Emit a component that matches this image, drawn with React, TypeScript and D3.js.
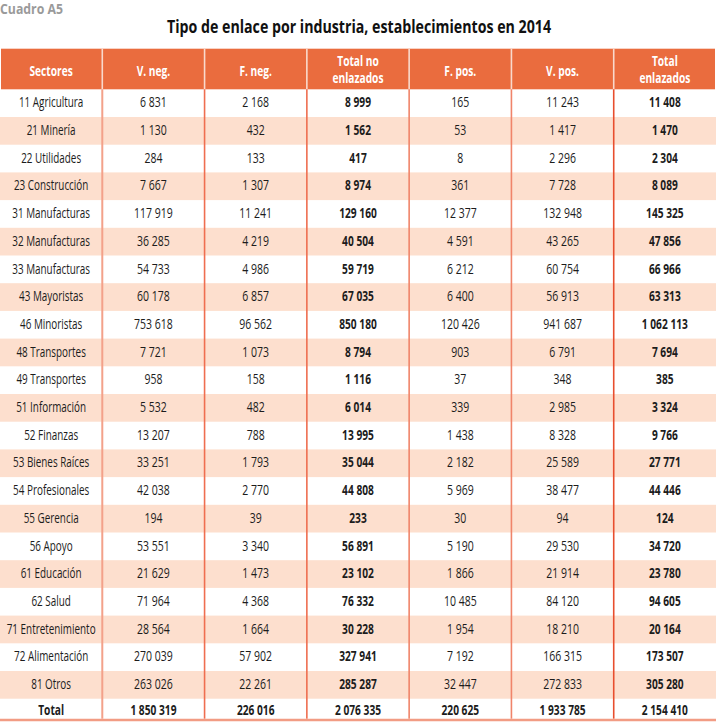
import React from "react";
import * as d3 from "d3";

const sectors = [
  "11 Agricultura", "21 Minería", "22 Utilidades", "23 Construcción", "31 Manufacturas",
  "32 Manufacturas", "33 Manufacturas", "43 Mayoristas", "46 Minoristas", "48 Transportes",
  "49 Transportes", "51 Información", "52 Finanzas", "53 Bienes Raíces", "54 Profesionales",
  "55 Gerencia", "56 Apoyo", "61 Educación", "62 Salud", "71 Entretenimiento",
  "72 Alimentación", "81 Otros",
];
const vNeg = [6831, 1130, 284, 7667, 117919, 36285, 54733, 60178, 753618, 7721, 958, 5532, 13207, 33251, 42038, 194, 53551, 21629, 71964, 28564, 270039, 263026];
const fNeg = [2168, 432, 133, 1307, 11241, 4219, 4986, 6857, 96562, 1073, 158, 482, 788, 1793, 2770, 39, 3340, 1473, 4368, 1664, 57902, 22261];
const totalNo = [8999, 1562, 417, 8974, 129160, 40504, 59719, 67035, 850180, 8794, 1116, 6014, 13995, 35044, 44808, 233, 56891, 23102, 76332, 30228, 327941, 285287];
const fPos = [165, 53, 8, 361, 12377, 4591, 6212, 6400, 120426, 903, 37, 339, 1438, 2182, 5969, 30, 5190, 1866, 10485, 1954, 7192, 32447];
const vPos = [11243, 1417, 2296, 7728, 132948, 43265, 60754, 56913, 941687, 6791, 348, 2985, 8328, 25589, 38477, 94, 29530, 21914, 84120, 18210, 166315, 272833];
const totalEnl = [11408, 1470, 2304, 8089, 145325, 47856, 66966, 63313, 1062113, 7694, 385, 3324, 9766, 27771, 44446, 124, 34720, 23780, 94605, 20164, 173507, 305280];
const totals = [1850319, 226016, 2076335, 220625, 1933785, 2154410];
const headers = [["Sectores"], ["V. neg."], ["F. neg."], ["Total no", "enlazados"], ["F. pos."], ["V. pos."], ["Total", "enlazados"]];
const boldCols = [3, 6];
const title = "Tipo de enlace por industria, establecimientos en 2014";
const label = "Cuadro A5";

const W = 717;
const H = 722;
const FONT = "'Open Sans', 'Noto Sans', sans-serif";
const ORANGE = "#EA6C3E";
const PINK = "#FDDFCE";
const INK = "#1c1c1c";

const locale = d3.formatLocale({ decimal: ",", thousands: "\u00A0", grouping: [3], currency: ["", ""] });
const fmt = locale.format(",d");

type TProps = { x: number; y: number; s: number; bold?: boolean; fill?: string; size?: number; children: React.ReactNode };
function T({ x, y, s, bold, fill = INK, size = 15, children }: TProps) {
  return (
    <text transform={`translate(${x},${y}) scale(${s},1)`} fontFamily={FONT} fontSize={size}
      fontWeight={bold ? "bold" : "normal"} textAnchor="middle" fill={fill}>{children}</text>
  );
}

export default function App() {
  const nCols = headers.length;
  const xEdge = d3.scaleLinear().domain([0, nCols]).range([0, 716]);
  const headerTop = 48.7;
  const headerBottom = 89.3;
  const rowH = 27.7;
  const yRow = d3.scaleLinear().domain([0, 1]).range([headerBottom, headerBottom + rowH]);
  const totalTop = yRow(sectors.length);
  const totalBottom = totalTop + 20;
  const cx = (i: number) => (xEdge(i) + xEdge(i + 1)) / 2;

  const columns = [vNeg, fNeg, totalNo, fPos, vPos, totalEnl];
  const lineColors = ["#F3A18A", "#EF6E50", "#EF6E50", "#F0846A", "#F0846A", "#E84E2E"];
  const sText = 0.66;
  const sNum = 0.7;
  const sBold = 0.68;

  return (
    <svg width={W} height={H} style={{ position: "absolute", left: 0, top: 0, background: "#fff" }}>
      <text x={0} y={13.5} fontFamily={FONT} fontSize={13.5} fontWeight="bold" fill="#9a9a9a"
        textLength={63} lengthAdjust="spacingAndGlyphs">{label}</text>
      <text x={167} y={32.5} fontFamily={FONT} fontSize={18.5} fontWeight="bold" fill="#111"
        textLength={384} lengthAdjust="spacingAndGlyphs">{title}</text>

      <rect x={1} y={headerTop} width={714} height={headerBottom - headerTop} fill={ORANGE} />
      {sectors.map((s, r) =>
        r % 2 === 1 ? (
          <rect key={"bg" + r} x={0} y={yRow(r)} width={716} height={rowH} fill={PINK} />
        ) : null
      )}

      {d3.range(1, nCols).map((i) => (
        <g key={"vl" + i}>
          <line x1={xEdge(i)} x2={xEdge(i)} y1={headerTop} y2={headerBottom} stroke="#F9D9CC" strokeWidth={1.6} />
          <line x1={xEdge(i)} x2={xEdge(i)} y1={headerBottom} y2={totalBottom} stroke={lineColors[i - 1]} strokeWidth={i === 1 ? 2 : 1.6} />
        </g>
      ))}
      <line x1={0} x2={716} y1={totalBottom + 1.3} y2={totalBottom + 1.3} stroke="#F29C84" strokeWidth={2.6} />

      {headers.map((h, i) =>
        h.map((t, k) => (
          <T key={"h" + i + k} x={cx(i)} y={h.length === 1 ? 75.5 : 66 + k * 16.5} s={sBold} bold fill="#fff">{t}</T>
        ))
      )}

      {sectors.map((s, r) => (
        <g key={"r" + r}>
          <T x={cx(0)} y={yRow(r) + 18} s={sText}>{s}</T>
          {columns.map((col, c) => (
            <T key={c} x={cx(c + 1)} y={yRow(r) + 18} s={boldCols.includes(c + 1) ? sBold : sNum}
              bold={boldCols.includes(c + 1)}>{fmt(col[r])}</T>
          ))}
        </g>
      ))}
      <g>
        <T x={cx(0)} y={totalTop + 16} s={sBold} bold>Total</T>
        {totals.map((v, c) => (
          <T key={c} x={cx(c + 1)} y={totalTop + 16} s={sBold} bold>{fmt(v)}</T>
        ))}
      </g>
    </svg>
  );
}
